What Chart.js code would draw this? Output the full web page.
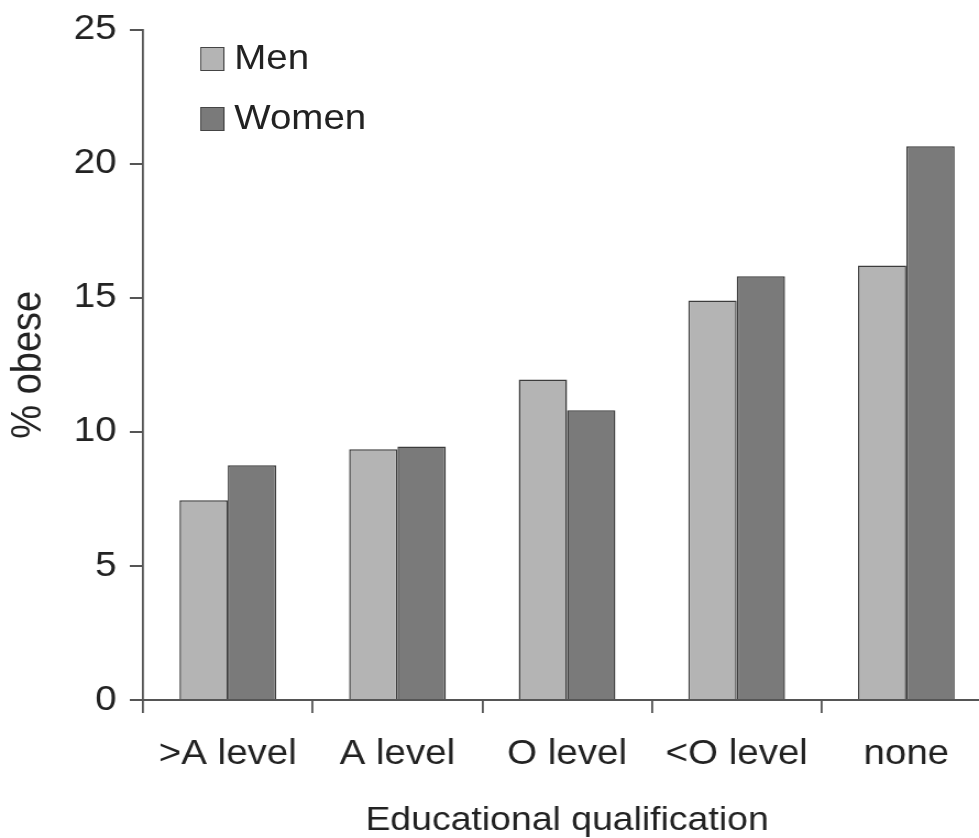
<!DOCTYPE html>
<html>
<head>
<meta charset="utf-8">
<title>% obese by educational qualification</title>
<script src="https://cdn.jsdelivr.net/npm/chart.js@4.4.0/dist/chart.umd.min.js"></script>
<style>
    html, body { margin: 0; padding: 0; background: #fff; overflow: hidden; }
    /* the reference is a little stretched sideways, so the chart is drawn narrower and scaled */
    #wrap { position: relative; width: 905px; height: 838px; transform: scaleX(1.1); transform-origin: 0 0; }
    #legend { position: absolute; left: 182px; top: 47px; font-family: "Liberation Sans", Arial, sans-serif; font-size: 35px; color: #222; }
    .legend-item { display: flex; align-items: center; height: 24px; margin-bottom: 36px; }
    .legend-box { width: 22px; height: 24px; box-sizing: border-box; border: 1.8px solid #444; margin-right: 9px; }
    .legend-text { position: relative; top: -2px; }
</style>
</head>
<body>
<div id="wrap">
    <canvas id="obeseChart"></canvas>
    <div id="legend"></div>
</div>
<script>
// data
const categories = [">A level", "A level", "O level", "<O level", "none"];
const menValues = [7.45, 9.35, 11.95, 14.9, 16.2];
const womenValues = [8.75, 9.45, 10.8, 15.8, 20.65];
const yTicks = [0, 5, 10, 15, 20, 25];

const fontFamily = '"Liberation Sans", Arial, sans-serif';
const textColor = "#222";
const axisColor = "#555";

const ctx = document.getElementById("obeseChart").getContext("2d");

const chart = new Chart(ctx, {
    type: "bar",
    data: {
        labels: categories,
        datasets: [
            {
                label: "Men",
                data: menValues,
                backgroundColor: "#b4b4b4",
                borderColor: "#3c3c3c",
                borderWidth: 1.5,
                categoryPercentage: 0.57,
                barPercentage: 1.0
            },
            {
                label: "Women",
                data: womenValues,
                backgroundColor: "#7a7a7a",
                borderColor: "#3c3c3c",
                borderWidth: 1.5,
                categoryPercentage: 0.57,
                barPercentage: 1.0
            }
        ]
    },
    options: {
        responsive: true,
        maintainAspectRatio: false,
        animation: false,
        layout: { padding: { top: 29, right: 4, left: 0, bottom: 0 } },
        plugins: {
            legend: { display: false }, // html legend below
            tooltip: { enabled: false }
        },
        scales: {
            x: {
                offset: true,
                grid: {
                    offset: true,
                    drawOnChartArea: false,
                    tickLength: 13,
                    color: axisColor,
                    lineWidth: 1.8
                },
                border: { color: axisColor, width: 2 },
                ticks: {
                    color: textColor,
                    font: { family: fontFamily, size: 35 },
                    padding: 20,
                    maxRotation: 0,
                    autoSkip: false
                },
                title: {
                    display: true,
                    text: "Educational qualification",
                    color: textColor,
                    font: { family: fontFamily, size: 34, lineHeight: 1 },
                    padding: { top: 0, bottom: 0 }
                },
                afterFit: function (scale) {
                    scale.height = 138;
                }
            },
            y: {
                min: 0,
                max: 25,
                afterBuildTicks: function (scale) {
                    scale.ticks = yTicks.map(v => ({ value: v }));
                },
                grid: {
                    drawOnChartArea: false,
                    tickLength: 12,
                    color: axisColor,
                    lineWidth: 2
                },
                border: { color: axisColor, width: 1.8 },
                ticks: {
                    color: textColor,
                    font: { family: fontFamily, size: 35, lineHeight: 1 },
                    padding: 12
                },
                title: {
                    display: true,
                    text: "% obese",
                    color: textColor,
                    font: { family: fontFamily, size: 38 },
                    padding: { top: 4, bottom: 0 }
                },
                afterFit: function (scale) {
                    scale.width = 130;
                }
            }
        }
    }
});

// build the legend from the datasets
const legendEl = document.getElementById("legend");
chart.data.datasets.forEach(ds => {
    const item = document.createElement("div");
    item.className = "legend-item";
    item.innerHTML = `<span class="legend-box" style="background:${ds.backgroundColor}"></span><span class="legend-text">${ds.label}</span>`;
    legendEl.appendChild(item);
});
</script>
</body>
</html>
